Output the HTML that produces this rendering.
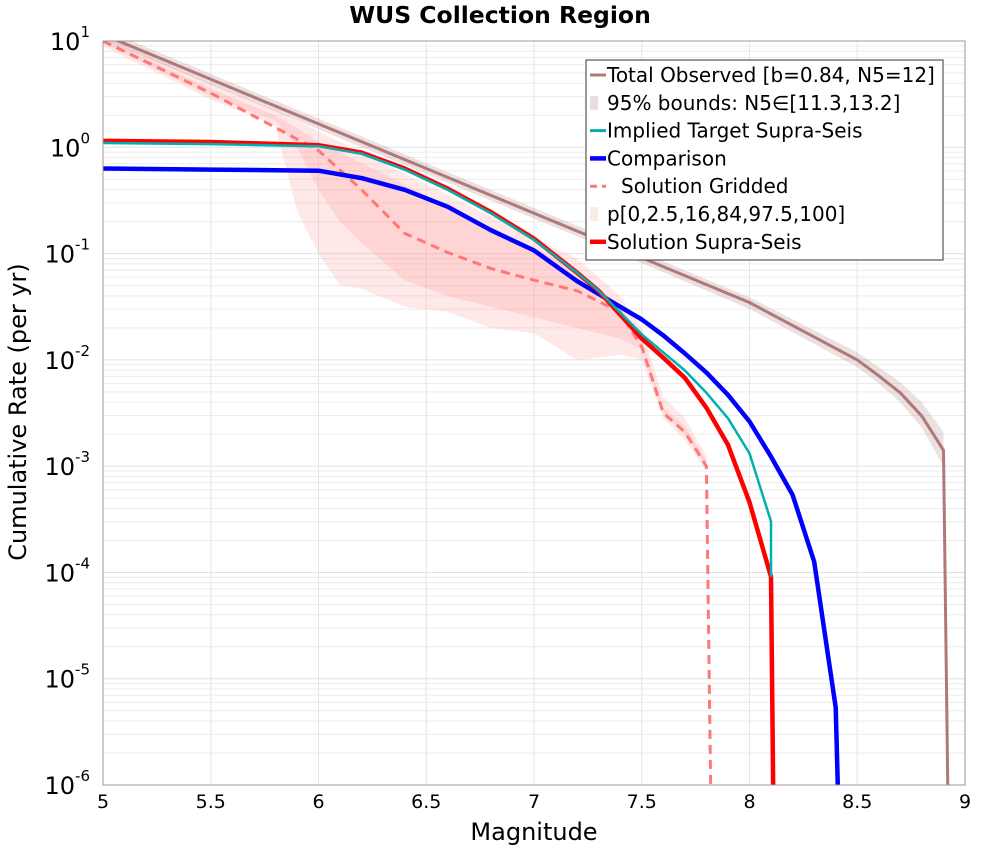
<!DOCTYPE html>
<html><head><meta charset="utf-8"><style>
body{margin:0;background:#fff;font-family:"DejaVu Sans","Liberation Sans",sans-serif}
</style></head><body>
<svg id="chart" width="1000" height="850" xmlns="http://www.w3.org/2000/svg" font-family="DejaVu Sans, Liberation Sans, sans-serif">
<defs><clipPath id="clip"><rect x="103" y="41" width="862" height="744"/></clipPath></defs>
<text x="500" y="23" text-anchor="middle" font-size="23.5" font-weight="bold">WUS Collection Region</text>
<g id="grid"></g><g id="series" clip-path="url(#clip)"></g>
<rect x="103" y="41" width="862" height="744" fill="none" stroke="#999" stroke-width="1"/>
<g id="ticks"></g>
<text x="534" y="840" text-anchor="middle" font-size="24">Magnitude</text>
<text transform="translate(26,412) rotate(-90)" text-anchor="middle" font-size="24">Cumulative Rate (per yr)</text>
<g id="legend"></g>
</svg>
<script>
const xTicks=[5,5.5,6,6.5,7,7.5,8,8.5,9];
const yDecades=[1,0,-1,-2,-3,-4,-5,-6];
const obsM=[5,5.5,6,6.5,7,7.5,8,8.5,8.6,8.7,8.8,8.9,8.92];
const obsLog=[1.06,0.64,0.22,-0.2,-0.62,-1.04,-1.46,-2.0,-2.15,-2.31,-2.53,-2.85,-6.2];
const obsLoLog=[1.01,0.59,0.17,-0.25,-0.67,-1.09,-1.52,-2.07,-2.22,-2.4,-2.64,-3.0];
const obsHiLog=[1.11,0.69,0.27,-0.15,-0.57,-0.99,-1.41,-1.93,-2.07,-2.21,-2.4,-2.68];
const supraM=[5,5.5,6,6.2,6.4,6.6,6.8,7.0,7.2,7.3,7.5,7.6,7.7,7.8,7.9,8.0,8.1,8.11];
const supraLog=[0.06,0.05,0.02,-0.05,-0.2,-0.39,-0.61,-0.86,-1.18,-1.35,-1.8,-1.98,-2.17,-2.45,-2.8,-3.34,-4.04,-6.2];
const targetM=[5,5.5,6,6.2,6.4,6.6,6.8,7.0,7.2,7.3,7.5,7.6,7.7,7.8,7.9,8.0,8.1,8.1];
const targetLog=[0.04,0.03,0.01,-0.06,-0.21,-0.4,-0.62,-0.87,-1.18,-1.35,-1.76,-1.93,-2.1,-2.31,-2.55,-2.88,-3.52,-4.04];
const compM=[5,5.5,6,6.2,6.4,6.6,6.8,7.0,7.2,7.3,7.5,7.6,7.7,7.8,7.9,8.0,8.1,8.2,8.3,8.4,8.41];
const compLog=[-0.2,-0.21,-0.22,-0.29,-0.4,-0.56,-0.78,-0.97,-1.26,-1.38,-1.62,-1.77,-1.94,-2.12,-2.33,-2.58,-2.91,-3.27,-3.9,-5.27,-6.2];
const gridM=[5,5.5,6,6.2,6.4,6.6,6.8,7.0,7.2,7.4,7.5,7.6,7.7,7.8,7.82];
const gridLog=[1.0,0.51,-0.03,-0.4,-0.81,-0.99,-1.14,-1.25,-1.35,-1.55,-1.88,-2.5,-2.68,-3.0,-6.2];
const bandM=[5,5.5,5.8,5.9,6,6.1,6.2,6.4,6.6,6.8,7.0,7.2,7.4,7.5,7.6,7.7,7.8];
const outerLo=[0.95,0.45,0.2,-0.6,-1.0,-1.3,-1.33,-1.5,-1.55,-1.7,-1.75,-2.0,-1.95,-2.0,-2.55,-2.75,-3.05];
const outerHi=[1.05,0.6,0.35,0.25,0.15,0.05,-0.05,-0.25,-0.45,-0.65,-0.85,-1.05,-1.4,-1.7,-2.35,-2.55,-2.9];
const innerLo=[0.98,0.48,0.25,0.0,-0.4,-0.7,-0.9,-1.25,-1.4,-1.5,-1.6,-1.7,-1.8,-1.9,-2.5,-2.7,-3.0];
const innerHi=[1.02,0.55,0.3,0.18,0.05,-0.05,-0.15,-0.35,-0.55,-0.75,-0.95,-1.15,-1.5,-1.8,-2.45,-2.62,-2.95];
const legendLabels=["Total Observed [b=0.84, N5=12]","95% bounds: N5\u2208[11.3,13.2]","Implied Target Supra-Seis","Comparison","Solution Gridded","p[0,2.5,16,84,97.5,100]","Solution Supra-Seis"];

const NS="http://www.w3.org/2000/svg";
const X=m=>103+(m-5)*215.5;
const Y=l=>{const v=41+(1-l)*106.29;return Math.min(v,790);};
function mk(tag,attrs,parent){const e=document.createElementNS(NS,tag);for(const k in attrs)e.setAttribute(k,attrs[k]);document.getElementById(parent).appendChild(e);return e;}
for(const d of yDecades){for(let k=1;k<10;k++){const l=d-1+Math.log10(k);if(l<-6||l>1)continue;
 const g=mk('line',{x1:103,x2:965,y1:Y(l),y2:Y(l),stroke:k==1?'#e0e0e0':'#ececec','stroke-width':1},'grid');
 
 }}
for(const t of xTicks){const g=mk('line',{x1:X(t),x2:X(t),y1:41,y2:785,stroke:'#e6e6e6','stroke-width':1},'grid');
 
 }
function pts(ms,ls){return ms.map((m,i)=>X(m).toFixed(1)+','+Y(ls[i]).toFixed(1)).join(' ');}
function band(ms,lo,hi,fill,name){const n=lo.length;const a=ms.slice(0,n);
 const p=pts(a,hi)+' '+pts(a.slice().reverse(),lo.slice().reverse());
 const e=mk('polygon',{points:p,fill:fill,stroke:'none'},'series');
 
 }
band(bandM,outerLo,outerHi,'rgba(255,150,150,0.22)','gridded-outer-band');
band(bandM,innerLo,innerHi,'rgba(255,150,150,0.25)','gridded-inner-band');
band(obsM,obsLoLog,obsHiLog,'rgba(170,120,120,0.22)','observed-bounds-band');
function line(ms,ls,color,w,name,dash){const e=mk('polyline',{points:pts(ms,ls),fill:'none',stroke:color,'stroke-width':w,'stroke-linejoin':'round'},'series');
 if(dash)e.setAttribute('stroke-dasharray',dash);
 
 }
line(obsM,obsLog,'#b07878',3,'total-observed-line');
line(gridM,gridLog,'#ff7878',3,'solution-gridded-line','9,6');
line(compM,compLog,'#0000ff',4.5,'comparison-line');
line(supraM,supraLog,'#ff0000',4.5,'solution-supra-seis-line');
line(targetM,targetLog,'#00b0b0',2.5,'implied-target-line');
for(const t of xTicks){const e=mk('text',{x:X(t),y:808,'text-anchor':'middle','font-size':19},'ticks');e.textContent=String(t);
 
 }
for(const d of yDecades){const e=mk('text',{x:90,y:Y(d)+9,'text-anchor':'end','font-size':24},'ticks');
 e.innerHTML='10<tspan dy="-13" font-size="15">'+d+'</tspan>';
 
 }
const lb=mk('rect',{x:586,y:60,width:357,height:200,fill:'#fff',stroke:'#555','stroke-width':1.2},'legend');


const sty=[['line','#b07878',3],['patch','rgba(170,120,120,0.25)'],['line','#00b0b0',3],['line','#0000ff',4.5],['dash','#ff7878',3],['patch','rgba(255,150,150,0.2)'],['line','#ff0000',4.5]];
legendLabels.forEach((s,i)=>{const y=75+i*27.8;const st=sty[i];
 if(st[0]=='patch'){const r=mk('rect',{x:590,y:y-7,width:8,height:14,fill:st[1]},'legend');}
 else{const l=mk('line',{x1:590,x2:606,y1:y,y2:y,stroke:st[1],'stroke-width':st[2]},'legend');if(st[0]=='dash')l.setAttribute('stroke-dasharray','7,5');}
 const t=mk('text',{x:st[0]=='dash'?621:607,y:y+7,'font-size':20},'legend');t.textContent=s;
 
 });
</script>
</body></html>
